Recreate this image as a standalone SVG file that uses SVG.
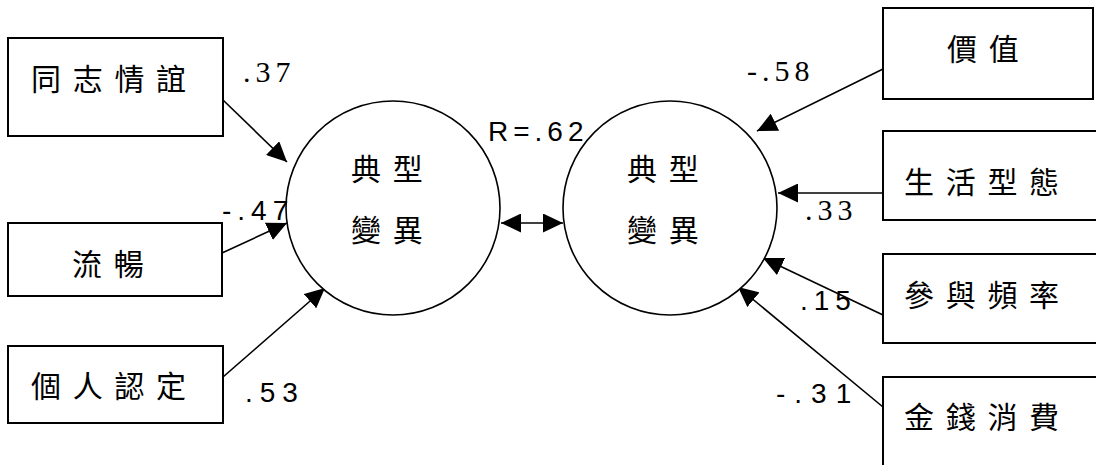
<svg xmlns="http://www.w3.org/2000/svg" width="1096" height="465" viewBox="0 0 1096 465">
<style>
.box{fill:#fff;stroke:#000;stroke-width:2}
.circ{fill:#fff;stroke:#000;stroke-width:1.6}
.cjk{font-family:"Noto Sans CJK TC","Noto Sans CJK SC",sans-serif;font-size:30px;letter-spacing:11.7px;fill:#000}
.num{font-family:"Liberation Sans",Arial,sans-serif;font-size:28px;fill:#000}
.ser{font-family:"Liberation Serif","Times New Roman",serif;font-size:30px;letter-spacing:5px;fill:#000}
.conn{stroke:#000;stroke-width:1.6;fill:none;marker-end:url(#ah)}
</style>
<defs>
<marker id="ah" viewBox="0 0 20 19" refX="20" refY="9.5" markerWidth="20" markerHeight="19" markerUnits="userSpaceOnUse" orient="auto-start-reverse">
<path d="M0,0 L20,9.5 L0,19 Z" fill="#000"/>
</marker>
</defs>
<rect width="1096" height="465" fill="#fff"/>
<g id="connectors">
<line class="conn" x1="223" y1="100" x2="287" y2="162"/>
<line class="conn" x1="222" y1="253" x2="287" y2="223"/>
<line class="conn" x1="223" y1="377" x2="325" y2="288"/>
<line class="conn" x1="883" y1="69" x2="757" y2="131"/>
<line class="conn" x1="883" y1="193" x2="778" y2="193"/>
<line class="conn" x1="883" y1="315" x2="763" y2="258"/>
<line class="conn" x1="883" y1="407" x2="738" y2="287"/>
<line class="conn" x1="501" y1="223" x2="563" y2="223" style="marker-start:url(#ah)"/>
</g>
<g id="node-tongzhi">
<rect class="box" x="8" y="38" width="215" height="98"/>
<text class="cjk" x="31" y="90">同志情誼</text>
</g>
<g id="node-liuchang">
<rect class="box" x="8" y="223" width="214" height="73"/>
<text class="cjk" x="72" y="275">流暢</text>
</g>
<g id="node-geren">
<rect class="box" x="8" y="346" width="215" height="77"/>
<text class="cjk" x="31" y="397">個人認定</text>
</g>
<g id="node-left-latent">
<circle class="circ" cx="393" cy="208" r="107"/>
<text class="cjk" x="351" y="180">典型</text>
<text class="cjk" x="351" y="241">變異</text>
</g>
<g id="node-right-latent">
<circle class="circ" cx="670" cy="208" r="107"/>
<text class="cjk" x="627" y="180">典型</text>
<text class="cjk" x="627" y="241">變異</text>
</g>
<g id="node-jiazhi">
<rect class="box" x="883" y="8" width="210" height="91"/>
<text class="cjk" x="947" y="60">價值</text>
</g>
<g id="node-shenghuo">
<rect class="box" x="883" y="131" width="220" height="89"/>
<text class="cjk" x="904" y="193">生活型態</text>
</g>
<g id="node-canyu">
<rect class="box" x="883" y="254" width="220" height="89"/>
<text class="cjk" x="904" y="306">參與頻率</text>
</g>
<g id="node-jinqian">
<rect class="box" x="883" y="377" width="220" height="100"/>
<text class="cjk" x="904" y="428">金錢消費</text>
</g>
<g id="labels">
<text class="ser" x="243" y="82">.37</text>
<text class="num" x="222" y="220" style="letter-spacing:6px">-.47</text>
<text class="num" x="245" y="402" style="letter-spacing:7px">.53</text>
<text class="num" x="488" y="141" style="letter-spacing:5px">R=.62</text>
<text class="ser" x="747" y="81">-.58</text>
<text class="ser" x="805" y="220">.33</text>
<text class="num" x="800" y="310" style="letter-spacing:6px">.15</text>
<text class="num" x="776" y="403" style="letter-spacing:9px">-.31</text>
</g>
</svg>
